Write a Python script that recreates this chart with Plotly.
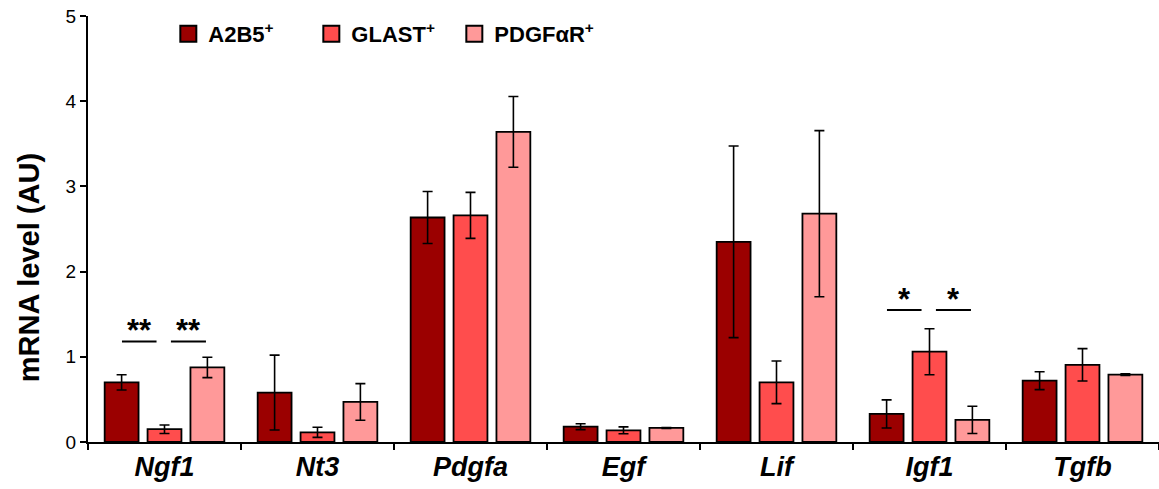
import plotly.graph_objects as go

genes = ["Ngf1", "Nt3", "Pdgfa", "Egf", "Lif", "Igf1", "Tgfb"]
series_names = ["A2B5<sup>+</sup>", "GLAST<sup>+</sup>", "PDGFαR<sup>+</sup>"]
colors = ["#9b0000", "#ff4d4d", "#ff9999"]

a2b5 = [0.70, 0.58, 2.635, 0.18, 2.35, 0.33, 0.72]
a2b5_err = [0.09, 0.44, 0.305, 0.035, 1.125, 0.165, 0.105]
glast = [0.15, 0.114, 2.66, 0.137, 0.70, 1.06, 0.906]
glast_err = [0.05, 0.06, 0.27, 0.04, 0.25, 0.27, 0.19]
pdgfar = [0.875, 0.47, 3.64, 0.165, 2.68, 0.26, 0.79]
pdgfar_err = [0.12, 0.215, 0.415, 0.005, 0.975, 0.16, 0.01]

values = [a2b5, glast, pdgfar]
errors = [a2b5_err, glast_err, pdgfar_err]

# significance brackets: gene, line height, stars
sig_genes = ["Ngf1", "Igf1"]
sig_levels = [1.18, 1.55]
sig_stars = ["**", "*"]

FONT = "Liberation Sans, Arial, sans-serif"

fig = go.Figure()
for name, col, vals, errs in zip(series_names, colors, values, errors):
    fig.add_trace(go.Bar(
        x=genes, y=vals, name=name, showlegend=False,
        marker=dict(color=col, line=dict(color="black", width=1.8)),
        error_y=dict(type="data", array=errs, visible=True, color="black",
                     thickness=1.6, width=5),
    ))
    # legend proxy
    fig.add_trace(go.Scatter(
        x=[None], y=[None], mode="markers", name=name,
        marker=dict(symbol="square", size=20, color=col,
                    line=dict(color="black", width=2)),
    ))

shapes = []
annotations = []
for g, lvl, st in zip(sig_genes, sig_levels, sig_stars):
    i = genes.index(g)
    for (x0, x1) in [(-0.278, -0.052), (0.042, 0.271)]:
        shapes.append(dict(type="line", xref="x", yref="y",
                           x0=i + x0, x1=i + x1, y0=lvl, y1=lvl,
                           line=dict(color="black", width=2)))
        annotations.append(dict(x=i + (x0 + x1) / 2, y=lvl, xref="x", yref="y",
                                text="<b>" + st + "</b>", showarrow=False,
                                yanchor="bottom", yshift=-9,
                                font=dict(size=31, color="black", family=FONT)))

# y-axis title (placed as in the reference, slightly below centre)
annotations.append(dict(x=-0.055, y=0.408, xref="paper", yref="paper",
                        text="<b>mRNA level (AU)</b>", textangle=-90,
                        showarrow=False, xanchor="center", yanchor="middle",
                        font=dict(size=29, family=FONT, color="black")))

fig.update_layout(
    width=1159, height=489,
    margin=dict(l=88, r=0, t=16, b=47, autoexpand=False),
    paper_bgcolor="white", plot_bgcolor="white",
    barmode="group", bargap=0.159, bargroupgap=0.21,
    font=dict(family=FONT, color="black"),
    shapes=shapes, annotations=annotations,
    legend=dict(orientation="h", x=0.075, y=0.958, xanchor="left", yanchor="middle",
                font=dict(size=22, family=FONT, color="black", weight="bold"),
                bgcolor="rgba(0,0,0,0)", itemsizing="trace",
                entrywidth=98, entrywidthmode="pixels"),
    xaxis=dict(
        tickmode="array", tickvals=genes,
        ticktext=["<b><i>" + g + "</i></b>" for g in genes],
        tickfont=dict(size=27, family=FONT, color="black"),
        showline=True, linecolor="black", linewidth=2,
        ticks="outside", ticklen=6, tickwidth=2, tickcolor="black",
        tickson="boundaries", showgrid=False, zeroline=False,
    ),
    yaxis=dict(
        range=[0, 5], tickvals=[0, 1, 2, 3, 4, 5],
        tickfont=dict(size=19, family=FONT, color="black"),
        showline=True, linecolor="black", linewidth=2,
        ticks="outside", ticklen=6, tickwidth=2, tickcolor="black",
        ticklabeloverflow="allow",
        showgrid=False, zeroline=False,
    ),
)

fig.write_html("out.html",
               config={"displayModeBar": False},
               post_script="document.body.style.margin='0';")
